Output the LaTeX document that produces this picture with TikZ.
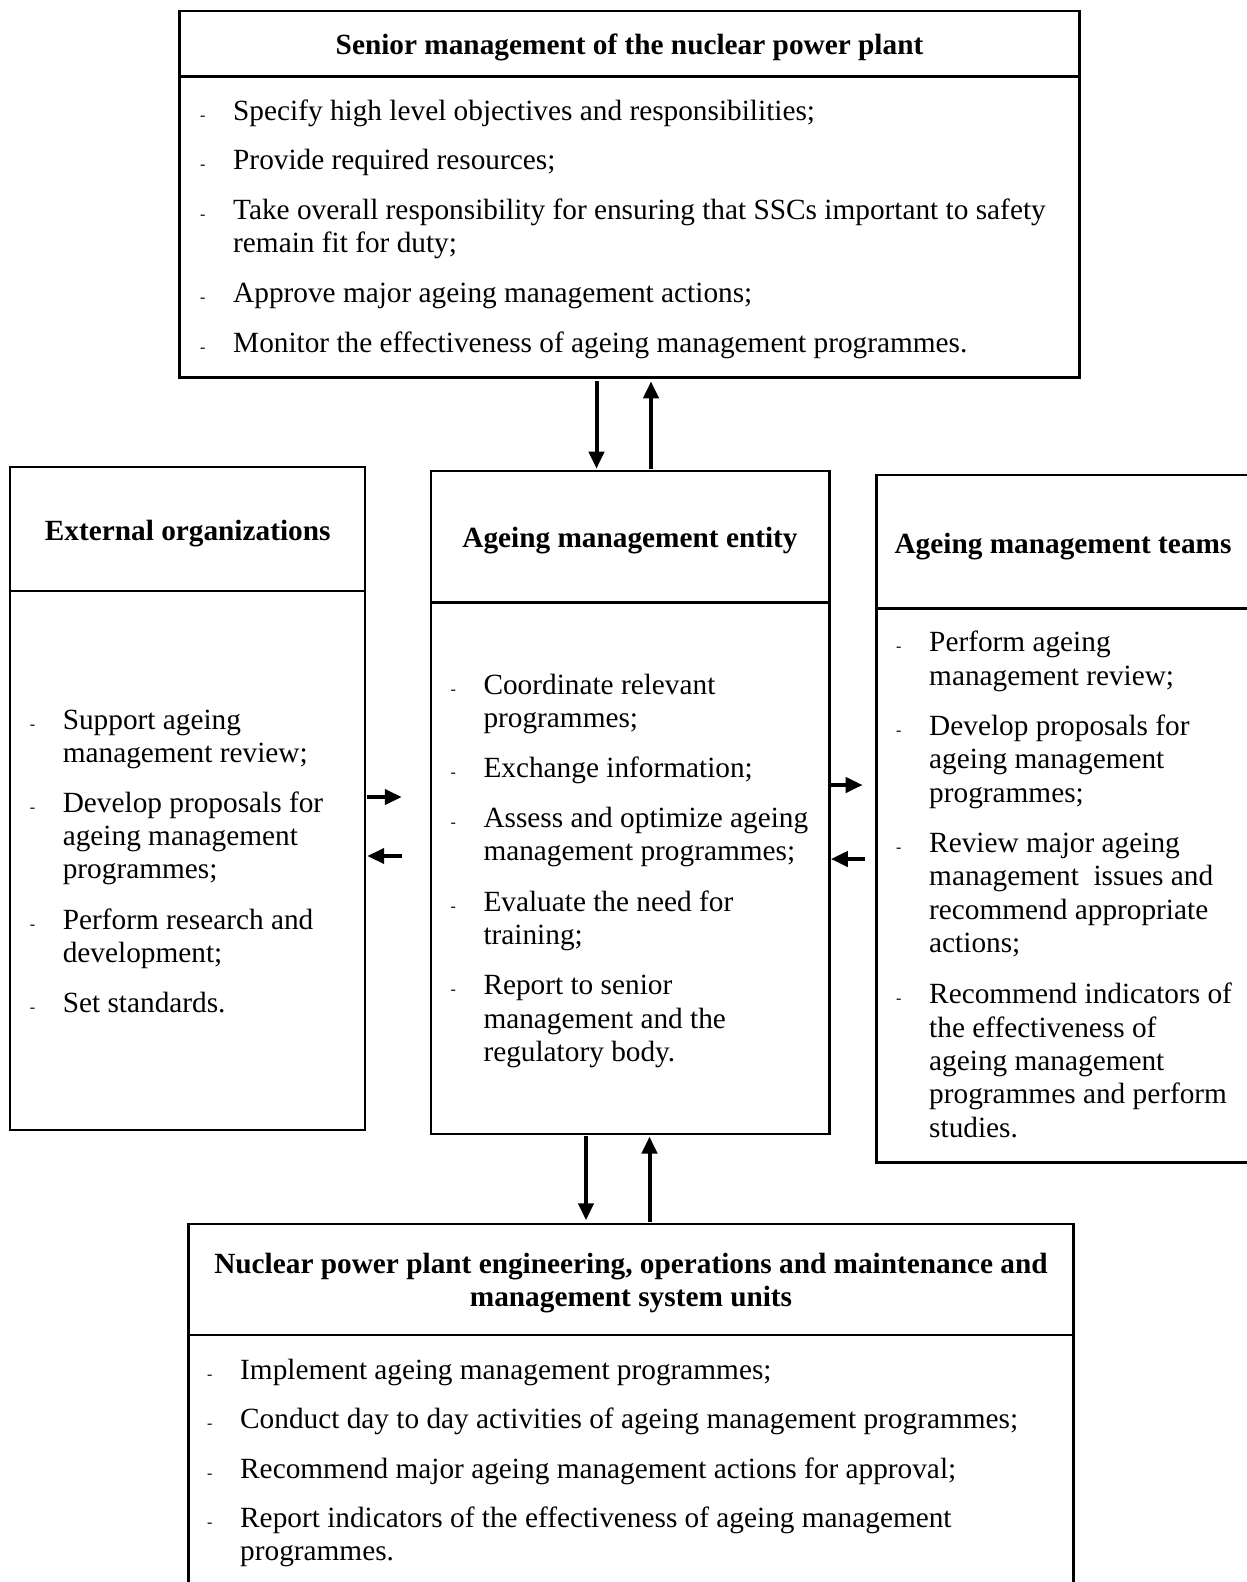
\documentclass[tikz,border=0pt]{standalone}
\usepackage{fontspec}
\setmainfont{Liberation Serif}
\usetikzlibrary{arrows.meta,calc}

% one bullet entry: #1 name, #2 x of the text, #3 baseline of first line, #4 lines
\newcommand{\amitem}[4]{%
  \node[dsh] (#1-d) at (#2-33,#3) {-};
  \foreach \ln [count=\k from 0] in {#4} {\node[txt] (#1-\k) at (#2,#3+\k*33.3) {\ln};}
}

\tikzset{
  box/.style={draw, line width=2.5pt, outer sep=0pt, inner sep=0pt, anchor=north west},
  sep/.style={line width=2.5pt},
  txt/.style={anchor=base west, inner sep=0pt, font=\fontsize{29.3}{33.3}\selectfont},
  dsh/.style={anchor=base west, inner sep=0pt, font=\fontsize{16}{18}\selectfont},
  hdr/.style={anchor=base, inner sep=0pt, font=\bfseries\fontsize{29.3}{33.3}\selectfont},
  arr/.style={line width=4pt, -{Triangle[length=17pt,width=15pt]}},
}

\begin{document}
\begin{tikzpicture}[x=1pt,y=-1pt]
\useasboundingbox (0,0) rectangle (1247,1582);

% boxes
\node[box, minimum width=899.9pt, minimum height=366.2pt] (senior) at (179.6,11.1) {};
\node[box, minimum width=355.1pt, minimum height=662.9pt] (extorg) at (10.1,467.1) {};
\node[box, minimum width=398.5pt, minimum height=662.8pt] (entity) at (430.8,471.2) {};
\node[box, minimum width=373.3pt, minimum height=687.1pt] (teams) at (876.7,475.2) {};
\node[box, minimum width=884.8pt, minimum height=376pt] (units) at (188.7,1223.8) {};

% header separators
\draw[sep] ($(senior.north west)+(0,65.6)$) -- ($(senior.north east)+(0,65.6)$);
\draw[sep] ($(extorg.north west)+(0,124.1)$) -- ($(extorg.north east)+(0,124.1)$);
\draw[sep] ($(entity.north west)+(0,131.1)$) -- ($(entity.north east)+(0,131.1)$);
\draw[sep] ($(teams.north west)+(0,133.2)$) -- ($(teams.north east)+(0,133.2)$);
\draw[sep] ($(units.north west)+(0,111)$) -- ($(units.north east)+(0,111)$);

% headers
\node[hdr] (h-senior) at (629.5,54) {Senior management of the nuclear power plant};
\node[hdr] (h-extorg) at (187.7,540) {External organizations};
\node[hdr] (h-entity) at (630,547) {Ageing management entity};
\node[hdr] (h-teams) at (1063,553) {Ageing management teams};
\node[hdr] (h-units1) at (631,1273) {Nuclear power plant engineering, operations and maintenance and};
\node[hdr] (h-units2) at (631,1306.5) {management system units};

% senior management duties
\amitem{s1}{233}{120}{Specify high level objectives and responsibilities;}
\amitem{s2}{233}{169.5}{Provide required resources;}
\amitem{s3}{233}{219}{Take overall responsibility for ensuring that SSCs important to safety, remain fit for duty;}
\amitem{s4}{233}{302.5}{Approve major ageing management actions;}
\amitem{s5}{233}{352.5}{Monitor the effectiveness of ageing management programmes.}

% external organizations
\amitem{e1}{62.6}{729.4}{Support ageing, management review;}
\amitem{e2}{62.6}{812.1}{Develop proposals for, ageing management, programmes;}
\amitem{e3}{62.6}{929.1}{Perform research and, development;}
\amitem{e4}{62.6}{1012.9}{Set standards.}

% ageing management entity
\amitem{c1}{483.3}{694}{Coordinate relevant, programmes;}
\amitem{c2}{483.3}{777.8}{Exchange information;}
\amitem{c3}{483.3}{827.2}{Assess and optimize ageing, management programmes;}
\amitem{c4}{483.3}{911}{Evaluate the need for, training;}
\amitem{c5}{483.3}{994.7}{Report to senior, management and the, regulatory body.}

% ageing management teams
\amitem{t1}{929}{651.7}{Perform ageing, management review;}
\amitem{t2}{929}{735.4}{Develop proposals for, ageing management, programmes;}
\amitem{t3}{929}{852.5}{Review major ageing, management\ \ issues and, recommend appropriate, actions;}
\amitem{t4}{929}{1003.8}{Recommend indicators of, the effectiveness of, ageing management, programmes and perform, studies.}

% plant units
\amitem{u1}{240}{1379}{Implement ageing management programmes;}
\amitem{u2}{240}{1428.5}{Conduct day to day activities of ageing management programmes;}
\amitem{u3}{240}{1478}{Recommend major ageing management actions for approval;}
\amitem{u4}{240}{1527.4}{Report indicators of the effectiveness of ageing management, programmes.}

% connector positions
\coordinate (vx1) at (596.5,0);
\coordinate (vx2) at (651,0);
\coordinate (vx3) at (586,0);
\coordinate (vx4) at (649.5,0);
\coordinate (hy1) at (0,797);
\coordinate (hy2) at (0,856);
\coordinate (hy3) at (0,785);
\coordinate (hy4) at (0,859);

% senior management <-> entity
\draw[arr] ($(senior.south -| vx1)+(0,4)$) -- ($(entity.north -| vx1)+(0,-2.5)$);
\draw[arr] ($(entity.north -| vx2)+(0,-2.5)$) -- ($(senior.south -| vx2)+(0,4)$);

% external organizations <-> entity
\draw[arr] ($(extorg.east |- hy1)+(2,0)$) -- ($(entity.west |- hy1)+(-29,0)$);
\draw[arr] ($(entity.west |- hy2)+(-29,0)$) -- ($(extorg.east |- hy2)+(2,0)$);

% entity <-> teams
\draw[arr] ($(entity.east |- hy3)+(0,0)$) -- ($(teams.west |- hy3)+(-14,0)$);
\draw[arr] ($(teams.west |- hy4)+(-12,0)$) -- ($(entity.east |- hy4)+(1.5,0)$);

% entity <-> plant units
\draw[arr] ($(entity.south -| vx3)+(0,2)$) -- ($(units.north -| vx3)+(0,-3.5)$);
\draw[arr] ($(units.north -| vx4)+(0,-2)$) -- ($(entity.south -| vx4)+(0,2.5)$);
\end{tikzpicture}
\end{document}
